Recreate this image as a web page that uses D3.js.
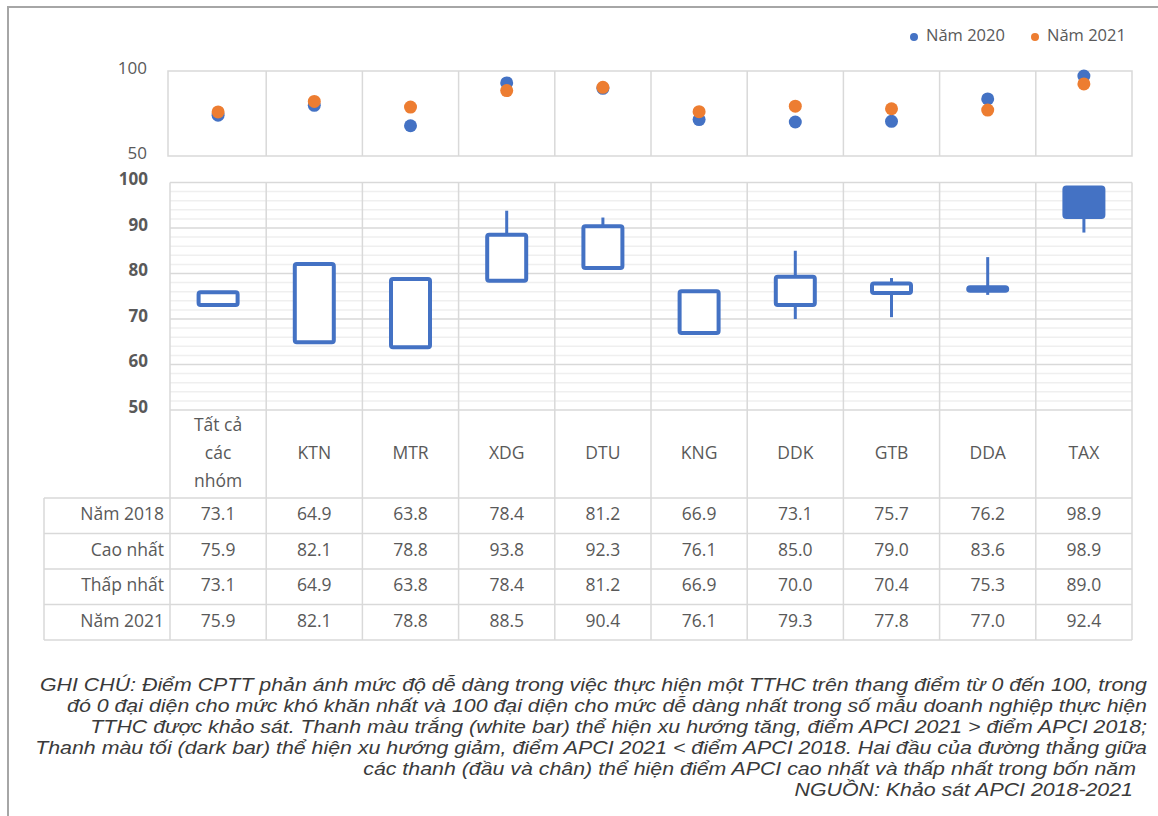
<!DOCTYPE html>
<html lang="vi">
<head>
<meta charset="UTF-8">
<title>Điểm CPTT theo nhóm TTHC</title>
<script src="https://d3js.org/d3.v7.min.js"></script>
<style>
    body { margin: 0; background: #fff; }
    svg { display: block; font-family: "Open Sans", "Noto Sans", sans-serif; }
</style>
</head>
<body>
<div id="chart"></div>
<script>
// du lieu doc tu bieu do
const categories = ["Tất cả các nhóm", "KTN", "MTR", "XDG", "DTU", "KNG", "DDK", "GTB", "DDA", "TAX"];
const nam2018 = [73.1, 64.9, 63.8, 78.4, 81.2, 66.9, 73.1, 75.7, 76.2, 98.9];
const caoNhat = [75.9, 82.1, 78.8, 93.8, 92.3, 76.1, 85.0, 79.0, 83.6, 98.9];
const thapNhat = [73.1, 64.9, 63.8, 78.4, 81.2, 66.9, 70.0, 70.4, 75.3, 89.0];
const nam2021 = [75.9, 82.1, 78.8, 88.5, 90.4, 76.1, 79.3, 77.8, 77.0, 92.4];
const nam2020 = [74.0, 79.8, 67.8, 93.0, 89.8, 71.4, 70.0, 70.4, 83.6, 97.0]; // uoc luong tu cham xanh
const rowLabels = ["Năm 2018", "Cao nhất", "Thấp nhất", "Năm 2021"];
const rowValues = [nam2018, caoNhat, thapNhat, nam2021];
const legendLabels = ["Năm 2020", "Năm 2021"];
const topTicks = [50, 100];
const bottomTicks = [50, 60, 70, 80, 90, 100];
const noteLines = [
    "GHI CHÚ: Điểm CPTT phản ánh mức độ dễ dàng trong việc thực hiện một TTHC trên thang điểm từ 0 đến 100, trong",
    "đó 0 đại diện cho mức khó khăn nhất và 100 đại diện cho mức dễ dàng nhất trong số mẫu doanh nghiệp thực hiện",
    "TTHC được khảo sát. Thanh màu trắng (white bar) thể hiện xu hướng tăng, điểm APCI 2021 > điểm APCI 2018;",
    "Thanh màu tối (dark bar) thể hiện xu hướng giảm, điểm APCI 2021 < điểm APCI 2018. Hai đầu của đường thẳng giữa",
    "các thanh (đầu và chân) thể hiện điểm APCI cao nhất và thấp nhất trong bốn năm",
    "NGUỒN: Khảo sát APCI 2018-2021"
];

const blue = "#4472C4", orange = "#ED7D31";
const gridColor = "#d9d9d9", minorColor = "#efefef";
const textColor = "#595959";

const width = 1158, height = 816;
const svg = d3.select("#chart").append("svg")
    .attr("width", width)
    .attr("height", height);

// khung ngoai
svg.append("rect")
    .attr("x", 8).attr("y", 7)
    .attr("width", 1170).attr("height", 830)
    .attr("fill", "none")
    .attr("stroke", "#a6a6a6")
    .attr("stroke-width", 2);

const x = d3.scaleBand().domain(categories).range([170, 1132]);
const yTop = d3.scaleLinear().domain([50, 100]).range([156, 71]);
const yBot = d3.scaleLinear().domain([50, 100]).range([410, 182.5]);

// ---- bieu do diem (tren) ----
const topG = svg.append("g");
topG.selectAll(".vline")
    .data(categories.slice(1))
    .enter().append("line")
    .attr("x1", d => x(d)).attr("x2", d => x(d))
    .attr("y1", yTop(100)).attr("y2", yTop(50))
    .attr("stroke", gridColor).attr("stroke-width", 1.5);
topG.append("rect")
    .attr("x", 168).attr("y", yTop(100))
    .attr("width", 1132 - 168).attr("height", yTop(50) - yTop(100))
    .attr("fill", "none").attr("stroke", gridColor).attr("stroke-width", 1.5);

topG.selectAll(".tick")
    .data(topTicks)
    .enter().append("text")
    .attr("x", 147).attr("y", d => yTop(d) - 2)
    .attr("text-anchor", "end").attr("dominant-baseline", "middle")
    .attr("font-size", 17).attr("fill", textColor)
    .text(d => d);

topG.selectAll(".d2020")
    .data(nam2020)
    .enter().append("circle")
    .attr("cx", (d, i) => x(categories[i]) + x.bandwidth() / 2)
    .attr("cy", d => yTop(d))
    .attr("r", 6.5).attr("fill", blue);
topG.selectAll(".d2021")
    .data(nam2021)
    .enter().append("circle")
    .attr("cx", (d, i) => x(categories[i]) + x.bandwidth() / 2)
    .attr("cy", d => yTop(d))
    .attr("r", 6.5).attr("fill", orange);

// chu thich
const legend = svg.append("g");
legend.selectAll("circle")
    .data(legendLabels)
    .enter().append("circle")
    .attr("cx", (d, i) => 914 + i * 121).attr("cy", 37)
    .attr("r", 4).attr("fill", (d, i) => i === 0 ? blue : orange);
legend.selectAll("text")
    .data(legendLabels)
    .enter().append("text")
    .attr("x", (d, i) => 926 + i * 121).attr("y", 37)
    .attr("dominant-baseline", "middle")
    .attr("font-size", 16.5).attr("fill", textColor)
    .text(d => d);

// ---- bieu do nen (duoi) ----
const botG = svg.append("g");
botG.selectAll(".minor")
    .data(d3.range(52, 100, 2).filter(v => v % 10 !== 0))
    .enter().append("line")
    .attr("x1", 170).attr("x2", 1132)
    .attr("y1", d => yBot(d)).attr("y2", d => yBot(d))
    .attr("stroke", minorColor).attr("stroke-width", 1.5);
botG.selectAll(".major")
    .data(bottomTicks)
    .enter().append("line")
    .attr("x1", 170).attr("x2", 1132)
    .attr("y1", d => yBot(d)).attr("y2", d => yBot(d))
    .attr("stroke", gridColor).attr("stroke-width", 1.5);

// duong doc xuyen qua bang
const rowTop = 498, rowH = 35.5;
botG.selectAll(".col")
    .data(categories.concat(["end"]))
    .enter().append("line")
    .attr("x1", (d, i) => i < categories.length ? x(d) : 1132)
    .attr("x2", (d, i) => i < categories.length ? x(d) : 1132)
    .attr("y1", yBot(100)).attr("y2", rowTop + rowH * 4)
    .attr("stroke", gridColor).attr("stroke-width", 1.5);

botG.selectAll(".tick")
    .data(bottomTicks)
    .enter().append("text")
    .attr("x", 148).attr("y", d => yBot(d) - 2)
    .attr("text-anchor", "end").attr("dominant-baseline", "middle")
    .attr("font-size", 17).attr("font-weight", "bold").attr("fill", textColor)
    .text(d => d);

// nen: bac (wick) va than
const cx = (i) => x(categories[i]) + x.bandwidth() / 2;
botG.selectAll(".wick")
    .data(categories)
    .enter().append("line")
    .attr("x1", (d, i) => cx(i)).attr("x2", (d, i) => cx(i))
    .attr("y1", (d, i) => yBot(caoNhat[i])).attr("y2", (d, i) => yBot(thapNhat[i]))
    .attr("stroke", blue).attr("stroke-width", 3);
botG.selectAll(".body")
    .data(categories)
    .enter().append("rect")
    .attr("x", (d, i) => cx(i) - 19.5)
    .attr("width", 39)
    .attr("y", (d, i) => yBot(Math.max(nam2018[i], nam2021[i])))
    .attr("height", (d, i) => Math.abs(yBot(nam2018[i]) - yBot(nam2021[i])))
    .attr("rx", 2)
    .attr("fill", (d, i) => nam2021[i] < nam2018[i] ? blue : "#fff")
    .attr("stroke", blue).attr("stroke-width", 4);

// ---- bang du lieu ----
const table = svg.append("g");
// tieu de cot
table.selectAll(".cat")
    .data(categories)
    .enter().append("text")
    .attr("x", d => x(d) + x.bandwidth() / 2)
    .attr("text-anchor", "middle")
    .attr("font-size", 17.5).attr("fill", textColor)
    .each(function (d) {
        const t = d3.select(this);
        const parts = d === "Tất cả các nhóm" ? ["Tất cả", "các", "nhóm"] : [d];
        const y0 = 454 - (parts.length - 1) * 14;
        parts.forEach((p, k) => {
            t.append("tspan")
                .attr("x", x(d) + x.bandwidth() / 2)
                .attr("y", y0 + k * 28)
                .attr("dominant-baseline", "middle")
                .text(p);
        });
    });

// duong ngang cua bang
table.selectAll(".hrow")
    .data(d3.range(5))
    .enter().append("line")
    .attr("x1", 44).attr("x2", 1132)
    .attr("y1", d => rowTop + d * rowH).attr("y2", d => rowTop + d * rowH)
    .attr("stroke", gridColor).attr("stroke-width", 1.5);
table.append("line")
    .attr("x1", 44).attr("x2", 44)
    .attr("y1", rowTop).attr("y2", rowTop + rowH * 4)
    .attr("stroke", gridColor).attr("stroke-width", 1.5);

table.selectAll(".rlab")
    .data(rowLabels)
    .enter().append("text")
    .attr("x", 164).attr("y", (d, i) => rowTop + rowH * (i + 0.5))
    .attr("text-anchor", "end").attr("dominant-baseline", "middle")
    .attr("font-size", 17.5).attr("fill", textColor)
    .text(d => d);

rowValues.forEach((vals, r) => {
    table.selectAll(".v" + r)
        .data(vals)
        .enter().append("text")
        .attr("x", (d, i) => cx(i))
        .attr("y", rowTop + rowH * (r + 0.5))
        .attr("text-anchor", "middle").attr("dominant-baseline", "middle")
        .attr("font-size", 17.5).attr("fill", textColor)
        .text(d => d.toFixed(1));
});

// ghi chu: can phai, gian ngang deu cho moi dong (dong dau rong 1107px)
const noteRight = [1147, 1147, 1147, 1147, 1136, 1133];
const notes = svg.selectAll(".note")
    .data(noteLines)
    .enter().append("text")
    .attr("y", (d, i) => 686 + i * 21)
    .attr("dominant-baseline", "middle")
    .attr("font-family", "'Liberation Sans', Arial, sans-serif")
    .attr("font-style", "italic")
    .attr("font-size", 19).attr("fill", "#3a3a3a")
    .text(d => d);
const natural = notes.nodes().map(n => n.getComputedTextLength());
const k = 1107 / natural[0];
notes
    .attr("textLength", (d, i) => natural[i] * k)
    .attr("lengthAdjust", "spacingAndGlyphs")
    .attr("x", (d, i) => noteRight[i] - natural[i] * k);
</script>
</body>
</html>
